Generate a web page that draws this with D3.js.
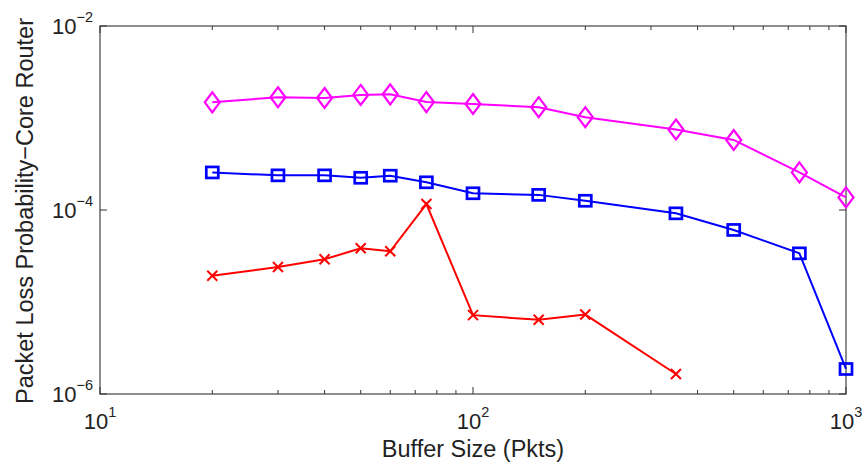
<!DOCTYPE html>
<html><head><meta charset="utf-8">
<script src="https://cdn.jsdelivr.net/npm/d3@7"></script>
<style>body{margin:0;background:#fff;} text{font-family:"Liberation Sans",Arial,sans-serif;fill:#222;}</style>
</head><body><svg id="c" width="865" height="465"></svg>
<script>
const bufferSizes = [20,30,40,50,60,75,100,150,200,350,500,750,1000];
const magentaLoss = [1.48e-3,1.68e-3,1.65e-3,1.78e-3,1.81e-3,1.49e-3,1.42e-3,1.31e-3,1.02e-3,7.5e-4,5.77e-4,2.56e-4,1.37e-4];
const blueLoss = [2.56e-4,2.38e-4,2.38e-4,2.24e-4,2.36e-4,2.0e-4,1.52e-4,1.46e-4,1.26e-4,9.2e-5,6.07e-5,3.38e-5,1.87e-6];
const redSizes = [20,30,40,50,60,75,100,150,200,350];
const redLoss = [1.93e-5,2.4e-5,2.91e-5,3.84e-5,3.56e-5,1.16e-4,7.2e-6,6.4e-6,7.3e-6,1.65e-6];
const xTickExps = [1,2,3];
const yTickExps = [-2,-4,-6];
const xLabel = "Buffer Size (Pkts)";
const yLabel = "Packet Loss Probability\u2212Core Router";

const svg = d3.select("#c");
const L=100,R=846,T=26,B=394;
const x = d3.scaleLog().domain([10,1000]).range([L,R]);
const y = d3.scaleLog().domain([1e-6,1e-2]).range([B,T]);

// box
svg.append("rect").attr("x",L).attr("y",T).attr("width",R-L).attr("height",B-T)
  .attr("fill","none").attr("stroke","#444").attr("stroke-width",1.2);

// x ticks (major and minor) top and bottom
const xt = [];
for (let d=10; d<=1000; d*=10) for (let k=1;k<10;k++){ const v=d*k; if(v<=1000) xt.push(v); }
xt.forEach(v=>{
  const px = x(v);
  const len = (Math.abs(Math.log10(v)%1)<1e-9)?7:4;
  svg.append("line").attr("x1",px).attr("x2",px).attr("y1",B).attr("y2",B-len).attr("stroke","#333");
  svg.append("line").attr("x1",px).attr("x2",px).attr("y1",T).attr("y2",T+len).attr("stroke","#333");
});
yTickExps.forEach(e=>{
  const py=y(Math.pow(10,e));
  svg.append("line").attr("x1",L).attr("x2",L+7).attr("y1",py).attr("y2",py).attr("stroke","#333");
  svg.append("line").attr("x1",R).attr("x2",R-7).attr("y1",py).attr("y2",py).attr("stroke","#333");
});

// tick labels
xTickExps.forEach(e=>{
  const t = svg.append("text").attr("x",x(Math.pow(10,e))).attr("y",429).attr("text-anchor","middle").attr("font-size",22);
  t.append("tspan").text("10");
  t.append("tspan").attr("dy",-12).attr("font-size",14.5).text(e);
});
yTickExps.forEach(e=>{
  const t = svg.append("text").attr("x",93).attr("y",y(Math.pow(10,e))+7.5).attr("text-anchor","end").attr("font-size",22);
  t.append("tspan").text("10");
  t.append("tspan").attr("dy",-12).attr("font-size",14.5).text("\u2212"+Math.abs(e));
});

// axis labels
svg.append("text").attr("x",473).attr("y",457).attr("text-anchor","middle").attr("font-size",23.5).text(xLabel);
svg.append("text").attr("transform","translate(33,211) rotate(-90)").attr("text-anchor","middle").attr("font-size",23.5).text(yLabel);

const line = d3.line().x(d=>x(d[0])).y(d=>y(d[1]));
function series(xs, ys, color, marker){
  const data = xs.map((v,i)=>[v,ys[i]]);
  const g = svg.append("g");
  g.append("path").attr("d",line(data)).attr("fill","none").attr("stroke",color).attr("stroke-width",2);
  data.forEach(d=>{
    const cx=x(d[0]), cy=y(d[1]);
    if(marker==="diamond"){
      g.append("path").attr("d",`M${cx},${cy-10}L${cx+7.5},${cy}L${cx},${cy+10}L${cx-7.5},${cy}Z`)
        .attr("fill","none").attr("stroke",color).attr("stroke-width",2.2);
    } else if(marker==="square"){
      g.append("rect").attr("x",cx-6).attr("y",cy-5.5).attr("width",12).attr("height",11)
        .attr("fill","none").attr("stroke",color).attr("stroke-width",2.7);
    } else {
      const s=5;
      g.append("path").attr("d",`M${cx-s},${cy-s}L${cx+s},${cy+s}M${cx-s},${cy+s}L${cx+s},${cy-s}`)
        .attr("stroke",color).attr("stroke-width",2);
    }
  });
}
series(bufferSizes, magentaLoss, "#ff00ff", "diamond");
series(bufferSizes, blueLoss, "#0000ff", "square");
series(redSizes, redLoss, "#ff0000", "x");
</script></body></html>
